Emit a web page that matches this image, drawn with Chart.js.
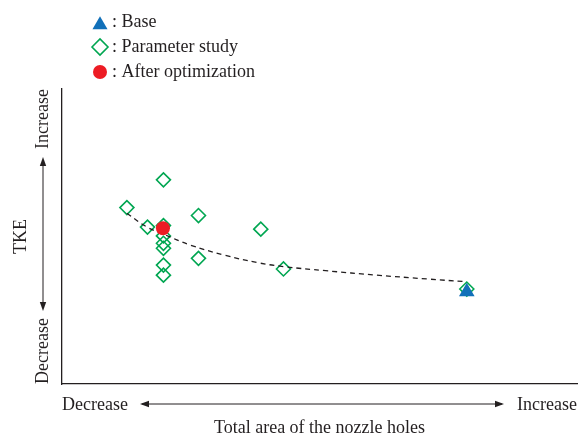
<!DOCTYPE html>
<html>
<head>
<meta charset="utf-8">
<title>TKE vs total area of the nozzle holes</title>
<script src="https://cdn.jsdelivr.net/npm/chart.js@4/dist/chart.umd.min.js"></script>
<style>
  html, body { margin: 0; padding: 0; background: #ffffff; }
  #wrap { width: 587px; height: 436px; position: relative; }
</style>
</head>
<body>
<div id="wrap"><canvas id="chart"></canvas></div>
<script>
// Relative scale (0–100) on both axes: total hole area (x) and TKE (y)
const studyX = [19.7, 12.6, 16.6, 19.7, 19.7, 19.7, 19.7, 19.7, 19.7, 26.5, 26.5, 38.6, 43.0, 78.6];
const studyY = [69.2, 59.8, 53.2, 53.7, 50.2, 47.7, 46.0, 40.3, 36.9, 57.1, 42.6, 52.5, 39.0, 32.2];

const baseX = [78.6];
const baseY = [31.3];

const optimizedX = [19.6];
const optimizedY = [52.8];

const trendX = [12.6, 16.4, 19.7, 24.9, 31.5, 38.1, 43.0, 51.2, 61.1, 70.9, 78.3];
const trendY = [57.9, 53.3, 50.8, 47.1, 43.7, 41.1, 39.8, 38.4, 36.9, 35.6, 34.7];

const legendLabels = [': Base', ': Parameter study', ': After optimization'];
const axisWords = ['Decrease', 'Increase'];
const xTitle = 'Total area of the nozzle holes';
const yTitle = 'TKE';

const INK = '#231f20';
const GREEN = '#00a651';
const RED = '#ed1c24';
const BLUE = '#1170b9';
const FONT = '18px "Liberation Serif", "Times New Roman", serif';

const toPoints = (xs, ys) => xs.map((x, i) => ({ x: x, y: ys[i] }));

function trianglePath(ctx, x, y, r) {
  ctx.beginPath();
  for (let k = 0; k < 3; k++) {
    const a = k * 2 * Math.PI / 3;
    const px = x + Math.sin(a) * r;
    const py = y - Math.cos(a) * r;
    if (k === 0) ctx.moveTo(px, py); else ctx.lineTo(px, py);
  }
  ctx.closePath();
}

function arrowHead(ctx, x, y, dx, dy) {
  // filled narrow head with its tip at (x, y) pointing along (dx, dy)
  const len = 9, half = 3.2;
  const nx = -dy, ny = dx;
  ctx.beginPath();
  ctx.moveTo(x, y);
  ctx.lineTo(x - dx * len + nx * half, y - dy * len + ny * half);
  ctx.lineTo(x - dx * len - nx * half, y - dy * len - ny * half);
  ctx.closePath();
  ctx.fill();
}

const decorations = {
  id: 'decorations',
  afterDraw(chart) {
    const ctx = chart.ctx;
    const a = chart.chartArea;
    ctx.save();
    ctx.fillStyle = INK;
    ctx.strokeStyle = INK;
    ctx.font = FONT;

    // legend
    const mx = 100;
    ctx.fillStyle = BLUE;
    trianglePath(ctx, mx, 25, 8.7);
    ctx.fill();

    ctx.strokeStyle = GREEN;
    ctx.lineWidth = 1.6;
    ctx.beginPath();
    ctx.moveTo(mx - 8, 47); ctx.lineTo(mx, 39); ctx.lineTo(mx + 8, 47); ctx.lineTo(mx, 55);
    ctx.closePath();
    ctx.stroke();

    ctx.fillStyle = RED;
    ctx.beginPath();
    ctx.arc(mx, 72, 7, 0, Math.PI * 2);
    ctx.fill();

    ctx.fillStyle = INK;
    ctx.textAlign = 'left';
    ctx.textBaseline = 'alphabetic';
    ctx.fillText(legendLabels[0], 112, 27);
    ctx.fillText(legendLabels[1], 112, 52);
    ctx.fillText(legendLabels[2], 112, 77);

    // x direction labels and arrow
    const xBase = a.bottom + 26;
    ctx.textAlign = 'left';
    ctx.fillText(axisWords[0], a.left, xBase);
    ctx.textAlign = 'right';
    ctx.fillText(axisWords[1], a.right, xBase);
    const ay = a.bottom + 20;
    ctx.lineWidth = 1;
    ctx.strokeStyle = INK;
    ctx.beginPath();
    ctx.moveTo(142, ay); ctx.lineTo(502, ay);
    ctx.stroke();
    arrowHead(ctx, 140, ay, -1, 0);
    arrowHead(ctx, 504, ay, 1, 0);
    ctx.textAlign = 'center';
    ctx.fillText(xTitle, (a.left + a.right) / 2, a.bottom + 49);

    // y direction labels and arrow (rotated text)
    const vx = 43;
    ctx.save();
    ctx.translate(vx, a.top);
    ctx.rotate(-Math.PI / 2);
    ctx.textAlign = 'right';
    ctx.textBaseline = 'middle';
    ctx.fillText(axisWords[1], 0, 0);
    ctx.restore();

    ctx.save();
    ctx.translate(vx, a.bottom);
    ctx.rotate(-Math.PI / 2);
    ctx.textAlign = 'left';
    ctx.textBaseline = 'middle';
    ctx.fillText(axisWords[0], 0, 0);
    ctx.restore();

    ctx.beginPath();
    ctx.moveTo(vx, 160); ctx.lineTo(vx, 308);
    ctx.stroke();
    arrowHead(ctx, vx, 157, 0, -1);
    arrowHead(ctx, vx, 311, 0, 1);

    ctx.save();
    ctx.translate(21, (a.top + a.bottom) / 2);
    ctx.rotate(-Math.PI / 2);
    ctx.textAlign = 'center';
    ctx.textBaseline = 'middle';
    ctx.fillText(yTitle, 0, 0);
    ctx.restore();

    ctx.restore();
  }
};

new Chart(document.getElementById('chart'), {
  type: 'scatter',
  data: {
    datasets: [
      {
        label: 'After optimization',
        data: toPoints(optimizedX, optimizedY),
        pointStyle: 'circle',
        pointRadius: 7,
        pointBackgroundColor: RED,
        pointBorderColor: RED,
        pointBorderWidth: 0
      },
      {
        label: 'Base',
        data: toPoints(baseX, baseY),
        pointStyle: 'triangle',
        pointRadius: 9,
        pointBackgroundColor: BLUE,
        pointBorderColor: BLUE,
        pointBorderWidth: 0
      },
      {
        label: 'Trend',
        type: 'line',
        data: toPoints(trendX, trendY),
        borderColor: INK,
        borderWidth: 1.3,
        borderDash: [5, 4],
        tension: 0.4,
        pointRadius: 0,
        fill: false
      },
      {
        label: 'Parameter study',
        data: toPoints(studyX, studyY),
        pointStyle: 'rectRot',
        pointRadius: 7,
        pointBackgroundColor: 'rgba(255,255,255,0)',
        pointBorderColor: GREEN,
        pointBorderWidth: 1.6
      }
    ]
  },
  options: {
    responsive: true,
    maintainAspectRatio: false,
    animation: false,
    layout: { padding: { left: 62, top: 89, right: 10, bottom: 52 } },
    plugins: {
      legend: { display: false },
      tooltip: { enabled: false },
      title: { display: false }
    },
    scales: {
      x: {
        type: 'linear',
        min: 0,
        max: 100,
        grid: { display: false, drawTicks: false },
        ticks: { display: false },
        border: { display: true, color: INK, width: 1.3 }
      },
      y: {
        type: 'linear',
        min: 0,
        max: 100,
        grid: { display: false, drawTicks: false },
        ticks: { display: false },
        border: { display: true, color: INK, width: 1.3 }
      }
    }
  },
  plugins: [decorations]
});
</script>
</body>
</html>
